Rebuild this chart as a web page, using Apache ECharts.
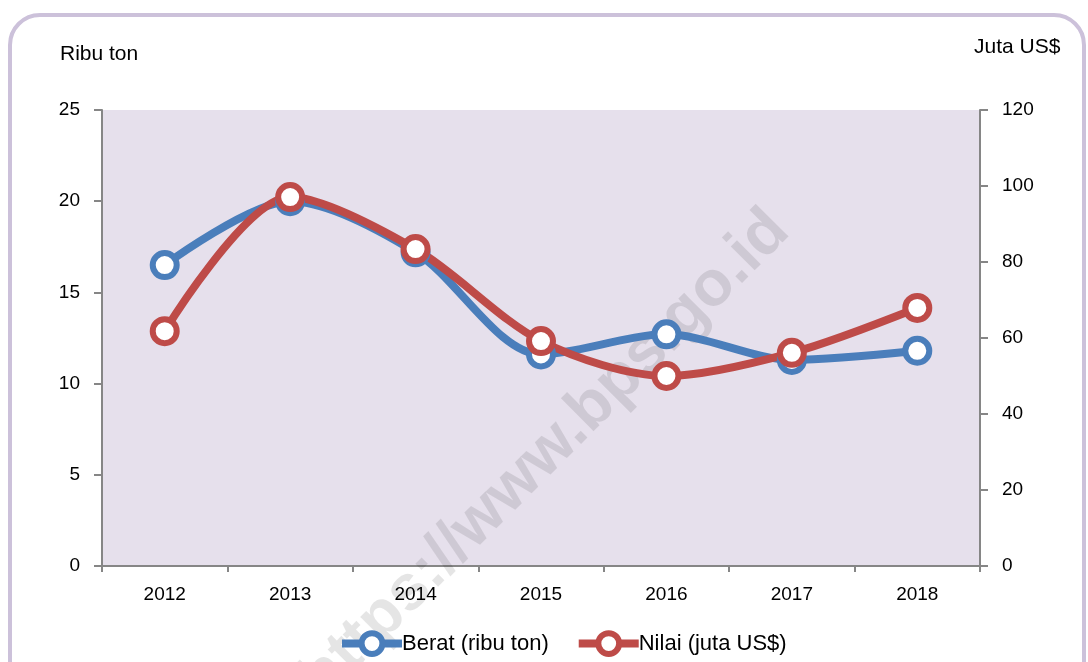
<!DOCTYPE html>
<html>
<head>
<meta charset="utf-8">
<script src="https://cdn.jsdelivr.net/npm/echarts@6/dist/echarts.min.js"></script>
<style>
  html, body { margin: 0; padding: 0; background: #fff; }
  #main { width: 1088px; height: 662px; }
</style>
</head>
<body>
<div id="main"></div>
<script>
//年份与两条序列
var years = ["2012", "2013", "2014", "2015", "2016", "2017", "2018"];
var berat = [16.5, 20.0, 17.2, 11.6, 12.7, 11.3, 11.8];   //ribu ton
var nilai = [61.8, 97.1, 83.4, 59.2, 50.0, 56.1, 67.9];   //juta US$

var blue = "#4a7ebb";
var red = "#be4b48";
var font = "'Liberation Sans', Arial, sans-serif";

var myChart = echarts.init(document.getElementById('main'));

function lineSeries(name, data, color, axisIdx) {
    return {
        name: name,
        type: 'line',
        yAxisIndex: axisIdx,
        data: data,
        smooth: 0.3,
        symbol: 'circle',
        symbolSize: 24,
        lineStyle: { color: color, width: 8 },
        itemStyle: { color: '#fff', borderColor: color, borderWidth: 6 },
        z: 3
    };
}

var option = {
    animation: false,
    textStyle: { fontFamily: font },
    grid: { left: 102, right: 108, top: 110, bottom: 96 },
    graphic: [
        {
            type: 'rect',
            shape: { x: 10, y: 15, width: 1074, height: 700, r: 30 },
            style: { fill: 'none', stroke: '#ccc1da', lineWidth: 4 },
            z: -10
        },
        {
            type: 'text',
            left: 60, top: 44,
            style: { text: 'Ribu ton', font: '21px ' + font, fill: '#000' }
        },
        {
            type: 'text',
            left: 974, top: 37,
            style: { text: 'Juta US$', font: '21px ' + font, fill: '#000' }
        },
        {
            //水印
            type: 'text',
            x: 545, y: 455,
            rotation: Math.PI / 4,
            style: {
                text: 'https://www.bps.go.id',
                font: 'bold 64px ' + font,
                fill: 'rgba(0,0,0,0.1)',
                align: 'center',
                verticalAlign: 'middle'
            },
            z: 1
        }
    ],
    legend: {
        bottom: 0,
        left: 333,
        itemWidth: 60,
        itemHeight: 26,
        itemGap: 26,
        lineStyle: { width: 8 },
        itemStyle: { borderWidth: 6 },
        textStyle: { fontSize: 22, color: '#000', fontFamily: font, padding: [0, 0, 0, -5] },
        data: ['Berat (ribu ton)', 'Nilai (juta US$)']
    },
    xAxis: {
        type: 'category',
        data: years,
        boundaryGap: true,
        axisLine: { lineStyle: { color: '#868686', width: 2 } },
        axisTick: { show: true, length: 6, lineStyle: { color: '#868686', width: 2 } },
        axisLabel: { fontSize: 19, color: '#000', margin: 19 },
        splitArea: { show: false }
    },
    yAxis: [
        {
            type: 'value', min: 0, max: 25, interval: 5, position: 'left',
            axisLine: { show: true, lineStyle: { color: '#868686', width: 2 } },
            axisTick: { show: true, length: 8, lineStyle: { color: '#868686', width: 2 } },
            axisLabel: { fontSize: 19, color: '#000', margin: 22 },
            splitLine: { show: false },
            splitArea: { show: true, areaStyle: { color: ['#e6e0ec'] } }
        },
        {
            type: 'value', min: 0, max: 120, interval: 20, position: 'right',
            axisLine: { show: true, lineStyle: { color: '#868686', width: 2 } },
            axisTick: { show: true, length: 8, lineStyle: { color: '#868686', width: 2 } },
            axisLabel: { fontSize: 19, color: '#000', margin: 22 },
            splitLine: { show: false }
        }
    ],
    series: [
        lineSeries('Berat (ribu ton)', berat, blue, 0),
        lineSeries('Nilai (juta US$)', nilai, red, 1)
    ]
};

myChart.setOption(option);
</script>
</body>
</html>
